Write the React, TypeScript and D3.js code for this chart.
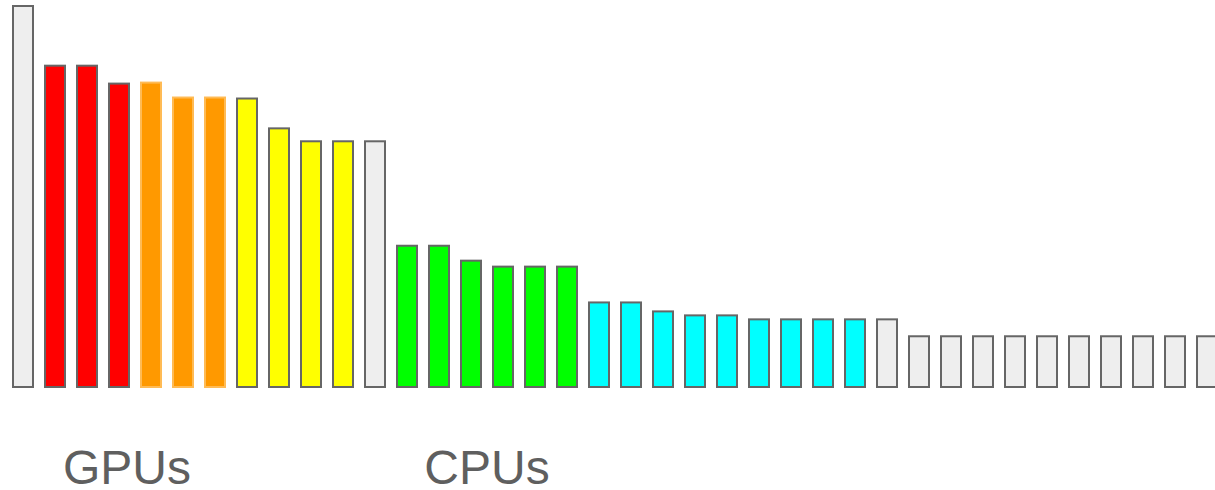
import React from "react";
import * as d3 from "d3";

// Bar values (relative performance), in display order
const values: number[] = [
  383, 323, 323, 305, 306, 291, 291, 290, 260, 247, 247, 247,
  142, 142, 127, 121, 121, 121,
  85, 85, 76, 72, 72, 68, 68, 68, 68,
  68, 51, 51, 51, 51, 51, 51, 51, 51, 51, 51,
];

// Tier of each bar (drives colour)
const tiers: string[] = [
  "none", "red", "red", "red", "orange", "orange", "orange",
  "yellow", "yellow", "yellow", "yellow", "none",
  "green", "green", "green", "green", "green", "green",
  "cyan", "cyan", "cyan", "cyan", "cyan", "cyan", "cyan", "cyan", "cyan",
  "none", "none", "none", "none", "none", "none", "none", "none", "none", "none", "none",
];

const groupLabels: string[] = ["GPUs", "CPUs"];
const groupLabelX: number[] = [127, 487];

const fills: Record<string, string> = {
  none: "#eeeeee",
  red: "#ff0000",
  orange: "#ff9900",
  yellow: "#ffff00",
  green: "#00ff00",
  cyan: "#00ffff",
};
const strokes: Record<string, string> = {
  none: "#666666",
  red: "#666666",
  orange: "#ffbb55",
  yellow: "#666666",
  green: "#666666",
  cyan: "#666666",
};

export default function App() {
  const W = 1215;
  const H = 490;
  const step = 32;
  const x = d3
    .scaleLinear()
    .domain([0, 1])
    .range([13, 13 + step]);
  const y = d3
    .scaleLinear()
    .domain([0, d3.max(values) as number])
    .range([387, 6]);

  return (
    <svg
      width={W}
      height={H}
      style={{ display: "block", overflow: "hidden", position: "absolute", left: 0, top: 0 }}
    >
      <rect x={0} y={0} width={W} height={H} fill="#ffffff" />
      {values.map((v, i) => (
        <rect
          key={i}
          x={x(i)}
          y={y(v)}
          width={20}
          height={y(0) - y(v)}
          fill={fills[tiers[i]]}
          stroke={strokes[tiers[i]]}
          strokeWidth={2}
        />
      ))}
      {groupLabels.map((t, i) => (
        <text
          key={t}
          x={groupLabelX[i]}
          y={484}
          textAnchor="middle"
          fontFamily="Liberation Sans, Arial, sans-serif"
          fontSize={48}
          fill="#5f5f5f"
        >
          {t}
        </text>
      ))}
    </svg>
  );
}
